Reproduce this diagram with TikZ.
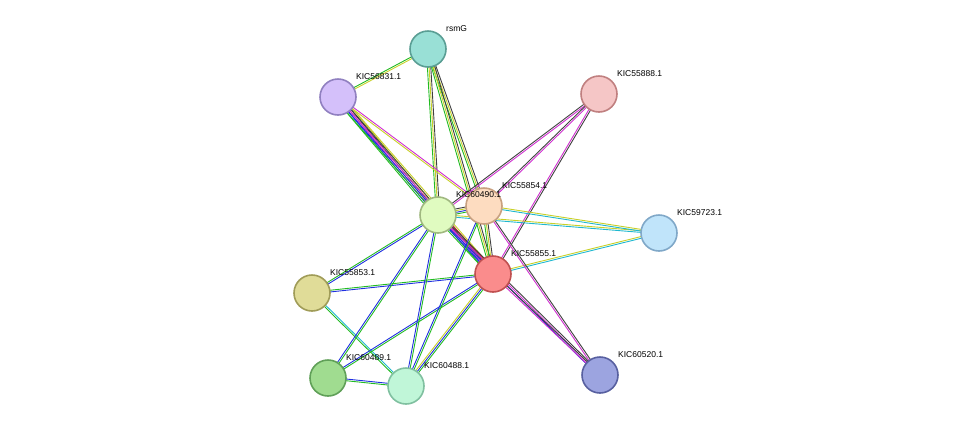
\documentclass[tikz,border=0pt]{standalone}
\usepackage{fontspec}
\setmainfont{Liberation Sans}
\usetikzlibrary{calc}
\definecolor{cG}{HTML}{22BB22}
\definecolor{cY}{HTML}{C8D028}
\definecolor{cK}{HTML}{404040}
\definecolor{cM}{HTML}{D030D0}
\definecolor{cB}{HTML}{2030E0}
\definecolor{cC}{HTML}{20B8D0}
\definecolor{cR}{HTML}{E02020}
\tikzset{
 prot/.style={circle,minimum size=36pt,inner sep=0pt,line width=1.6pt},
 lbl/.style={anchor=south west,font=\fontsize{8.5}{10}\selectfont,inner sep=0pt},
 ed/.style={line width=0.9pt}
}
\newcommand{\edg}[4]{% a b n colors
 \foreach \c [count=\i] in {#4}{
  \pgfmathsetmacro{\o}{(\i-(#3+1)/2)*1.7}
  \draw[ed,\c] ($(#1)!\o pt!90:(#2)$) -- ($(#2)!\o pt!-90:(#1)$);
 }}
\begin{document}
\begin{tikzpicture}[x=1pt,y=-1pt]
\useasboundingbox (0,0) rectangle (975,432);
\coordinate (rsmG) at (428,49);
\coordinate (k56831) at (338,97);
\coordinate (k55888) at (599,94);
\coordinate (k55854) at (484,206);
\coordinate (k60490) at (438,215);
\coordinate (k59723) at (659,233);
\coordinate (k55855) at (493,274);
\coordinate (k55853) at (312,293);
\coordinate (k60489) at (328,378);
\coordinate (k60488) at (406,386);
\coordinate (k60520) at (600,375);
\edg{rsmG}{k56831}{2}{cG,cY}
\edg{rsmG}{k60490}{3}{cG,cY,cK}
\edg{rsmG}{k55854}{3}{cG,cY,cK}
\edg{rsmG}{k55855}{3}{cG,cY,cK}
\edg{k56831}{k60490}{5}{cG,cB,cM,cK,cY}
\edg{k56831}{k55854}{2}{cY,cM}
\edg{k56831}{k55855}{5}{cG,cB,cM,cK,cY}
\edg{k55888}{k60490}{2}{cK,cM}
\edg{k55888}{k55854}{2}{cK,cM}
\edg{k55888}{k55855}{2}{cM,cK}
\edg{k59723}{k60490}{2}{cY,cC}
\edg{k59723}{k55854}{2}{cY,cC}
\edg{k59723}{k55855}{2}{cY,cC}
\edg{k60490}{k55854}{4}{cG,cB,cY,cK}
\edg{k60490}{k55855}{5}{cG,cB,cM,cK,cR}
\edg{k55854}{k55855}{3}{cG,cY,cK}
\edg{k60520}{k60490}{3}{cK,cM,cB}
\edg{k60520}{k55854}{2}{cK,cM}
\edg{k60520}{k55855}{2}{cK,cM}
\edg{k55853}{k60490}{2}{cB,cG}
\edg{k55853}{k55855}{2}{cB,cG}
\edg{k55853}{k60488}{2}{cG,cC}
\edg{k60489}{k60490}{2}{cG,cB}
\edg{k60489}{k55855}{2}{cG,cB}
\edg{k60489}{k60488}{2}{cG,cB}
\edg{k60488}{k60490}{2}{cG,cB}
\edg{k60488}{k55855}{3}{cG,cB,cY}
\edg{k60488}{k55854}{2}{cG,cB}
\node[prot,fill={rgb,255:red,153;green,224;blue,214},draw={rgb,255:red,90;green,158;blue,148}] (n1) at (rsmG) {};
\node[prot,fill={rgb,255:red,212;green,192;blue,250},draw={rgb,255:red,144;green,128;blue,192}] (n2) at (k56831) {};
\node[prot,fill={rgb,255:red,245;green,198;blue,198},draw={rgb,255:red,192;green,128;blue,128}] (n3) at (k55888) {};
\node[prot,fill={rgb,255:red,253;green,220;blue,192},draw={rgb,255:red,200;green,160;blue,128}] (n4) at (k55854) {};
\node[prot,fill={rgb,255:red,224;green,251;blue,192},draw={rgb,255:red,160;green,184;blue,128}] (n5) at (k60490) {};
\node[prot,fill={rgb,255:red,192;green,228;blue,250},draw={rgb,255:red,128;green,168;blue,200}] (n6) at (k59723) {};
\node[prot,fill={rgb,255:red,250;green,140;blue,140},draw={rgb,255:red,192;green,80;blue,80}] (n7) at (k55855) {};
\node[prot,fill={rgb,255:red,224;green,220;blue,152},draw={rgb,255:red,160;green,156;blue,88}] (n8) at (k55853) {};
\node[prot,fill={rgb,255:red,160;green,220;blue,144},draw={rgb,255:red,96;green,160;blue,88}] (n9) at (k60489) {};
\node[prot,fill={rgb,255:red,192;green,246;blue,216},draw={rgb,255:red,128;green,192;blue,160}] (n10) at (k60488) {};
\node[prot,fill={rgb,255:red,156;green,164;blue,224},draw={rgb,255:red,88;green,96;blue,160}] (n11) at (k60520) {};
\foreach \n/\t in {rsmG/rsmG,k56831/KIC56831.1,k55888/KIC55888.1,k55854/KIC55854.1,k60490/KIC60490.1,k59723/KIC59723.1,k55855/KIC55855.1,k55853/KIC55853.1,k60489/KIC60489.1,k60488/KIC60488.1,k60520/KIC60520.1}
  \node[lbl] (l\n) at ($(\n)+(18,-17)$) {\t};
\end{tikzpicture}
\end{document}
